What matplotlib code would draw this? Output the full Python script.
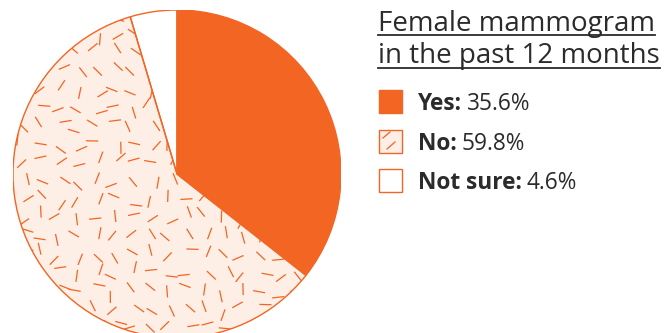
import numpy as np
import matplotlib
matplotlib.use("Agg")
import matplotlib.pyplot as plt
from matplotlib.patches import Rectangle, Wedge
from matplotlib.collections import LineCollection
from matplotlib.lines import Line2D

# Data
categories = ["Yes", "No", "Not sure"]
shares = [35.6, 59.8, 4.6]
title_lines = ["Female mammogram", "in the past 12 months"]

ORANGE = "#f26522"
LIGHT = "#fdeee6"
TEXT = "#2b2b2b"
FONT = "Open Sans"

W, H = 671, 333
fig = plt.figure(figsize=(W / 100, H / 100), dpi=100)

def fx(px):
    return px / W

def fy(py):
    return 1 - py / H

# Pie axes: centre (177, 174) px, radius 164 px
cx, cy, r = 177, 174, 164
ax = fig.add_axes([fx(cx - r), fy(cy + r), 2 * r / W, 2 * r / H])
wedges, _ = ax.pie(
    shares,
    startangle=90,
    counterclock=False,
    colors=[ORANGE, LIGHT, "white"],
    wedgeprops=dict(edgecolor="none", linewidth=0),
)
ax.set_xlim(-1, 1)
ax.set_ylim(-1, 1)
ax.set_aspect("equal")
ax.axis("off")

# Scattered-dash texture inside the "No" wedge
rng = np.random.default_rng(7)
step = 0.112
half = 0.037
segs = []
for gx in np.arange(-1.05, 1.05, step):
    for gy in np.arange(-1.05, 1.05, step):
        px = gx + rng.uniform(-0.038, 0.038)
        py = gy + rng.uniform(-0.038, 0.038)
        a = rng.uniform(0, np.pi)
        dx, dy = half * np.cos(a), half * np.sin(a)
        segs.append([(px - dx, py - dy), (px + dx, py + dy)])
lc = LineCollection(segs, colors=ORANGE, linewidths=0.9, capstyle="butt",
                    zorder=2)
ax.add_collection(lc)
lc.set_clip_path(wedges[1])

# wedge outlines above the texture
for w in wedges:
    ax.add_patch(Wedge(w.center, w.r, w.theta1, w.theta2, facecolor="none",
                       edgecolor=ORANGE, linewidth=1.0, zorder=3))

# Title with underlines
x0 = 378
title_size = 20
baselines = [30.5, 62.5]
underlines = [34.5, 67.5]
fig.canvas.draw()
renderer = fig.canvas.get_renderer()
figw_px = fig.dpi * fig.get_figwidth()
for line, base, ul in zip(title_lines, baselines, underlines):
    t = fig.text(fx(x0), fy(base), line, fontsize=title_size, family=FONT,
                 color=TEXT, ha="left", va="baseline")
    bb = t.get_window_extent(renderer=renderer)
    fig.add_artist(Line2D([fx(x0), bb.x1 / figw_px], [fy(ul), fy(ul)],
                          color=TEXT, linewidth=1.3,
                          transform=fig.transFigure))

# Legend
rows = [101, 141, 180]
sq = 23
label_size = 16.3
for i, (cat, val, yc) in enumerate(zip(categories, shares, rows)):
    face = [ORANGE, LIGHT, "white"][i]
    rect = Rectangle((fx(379), fy(yc + sq / 2)), sq / W, sq / H,
                     facecolor=face, edgecolor=ORANGE, linewidth=1.0,
                     transform=fig.transFigure)
    fig.add_artist(rect)
    if i == 1:
        for (ax1, ay1, ax2, ay2) in [(383, yc - 3, 390, yc - 9),
                                     (387, yc + 8, 395, yc + 1)]:
            fig.add_artist(Line2D([fx(ax1), fx(ax2)], [fy(ay1), fy(ay2)],
                                  color=ORANGE, linewidth=0.9,
                                  transform=fig.transFigure))
    tb = fig.text(fx(418), fy(yc), f"{cat}:", fontsize=label_size,
                  family=FONT, weight="bold", color=TEXT,
                  ha="left", va="center_baseline")
    bb = tb.get_window_extent(renderer=renderer)
    fig.text(bb.x1 / figw_px + fx(5), fy(yc),
             f"{val}%", fontsize=label_size, family=FONT, color=TEXT,
             ha="left", va="center_baseline")

fig.savefig("out.png", dpi=100, facecolor="white")
